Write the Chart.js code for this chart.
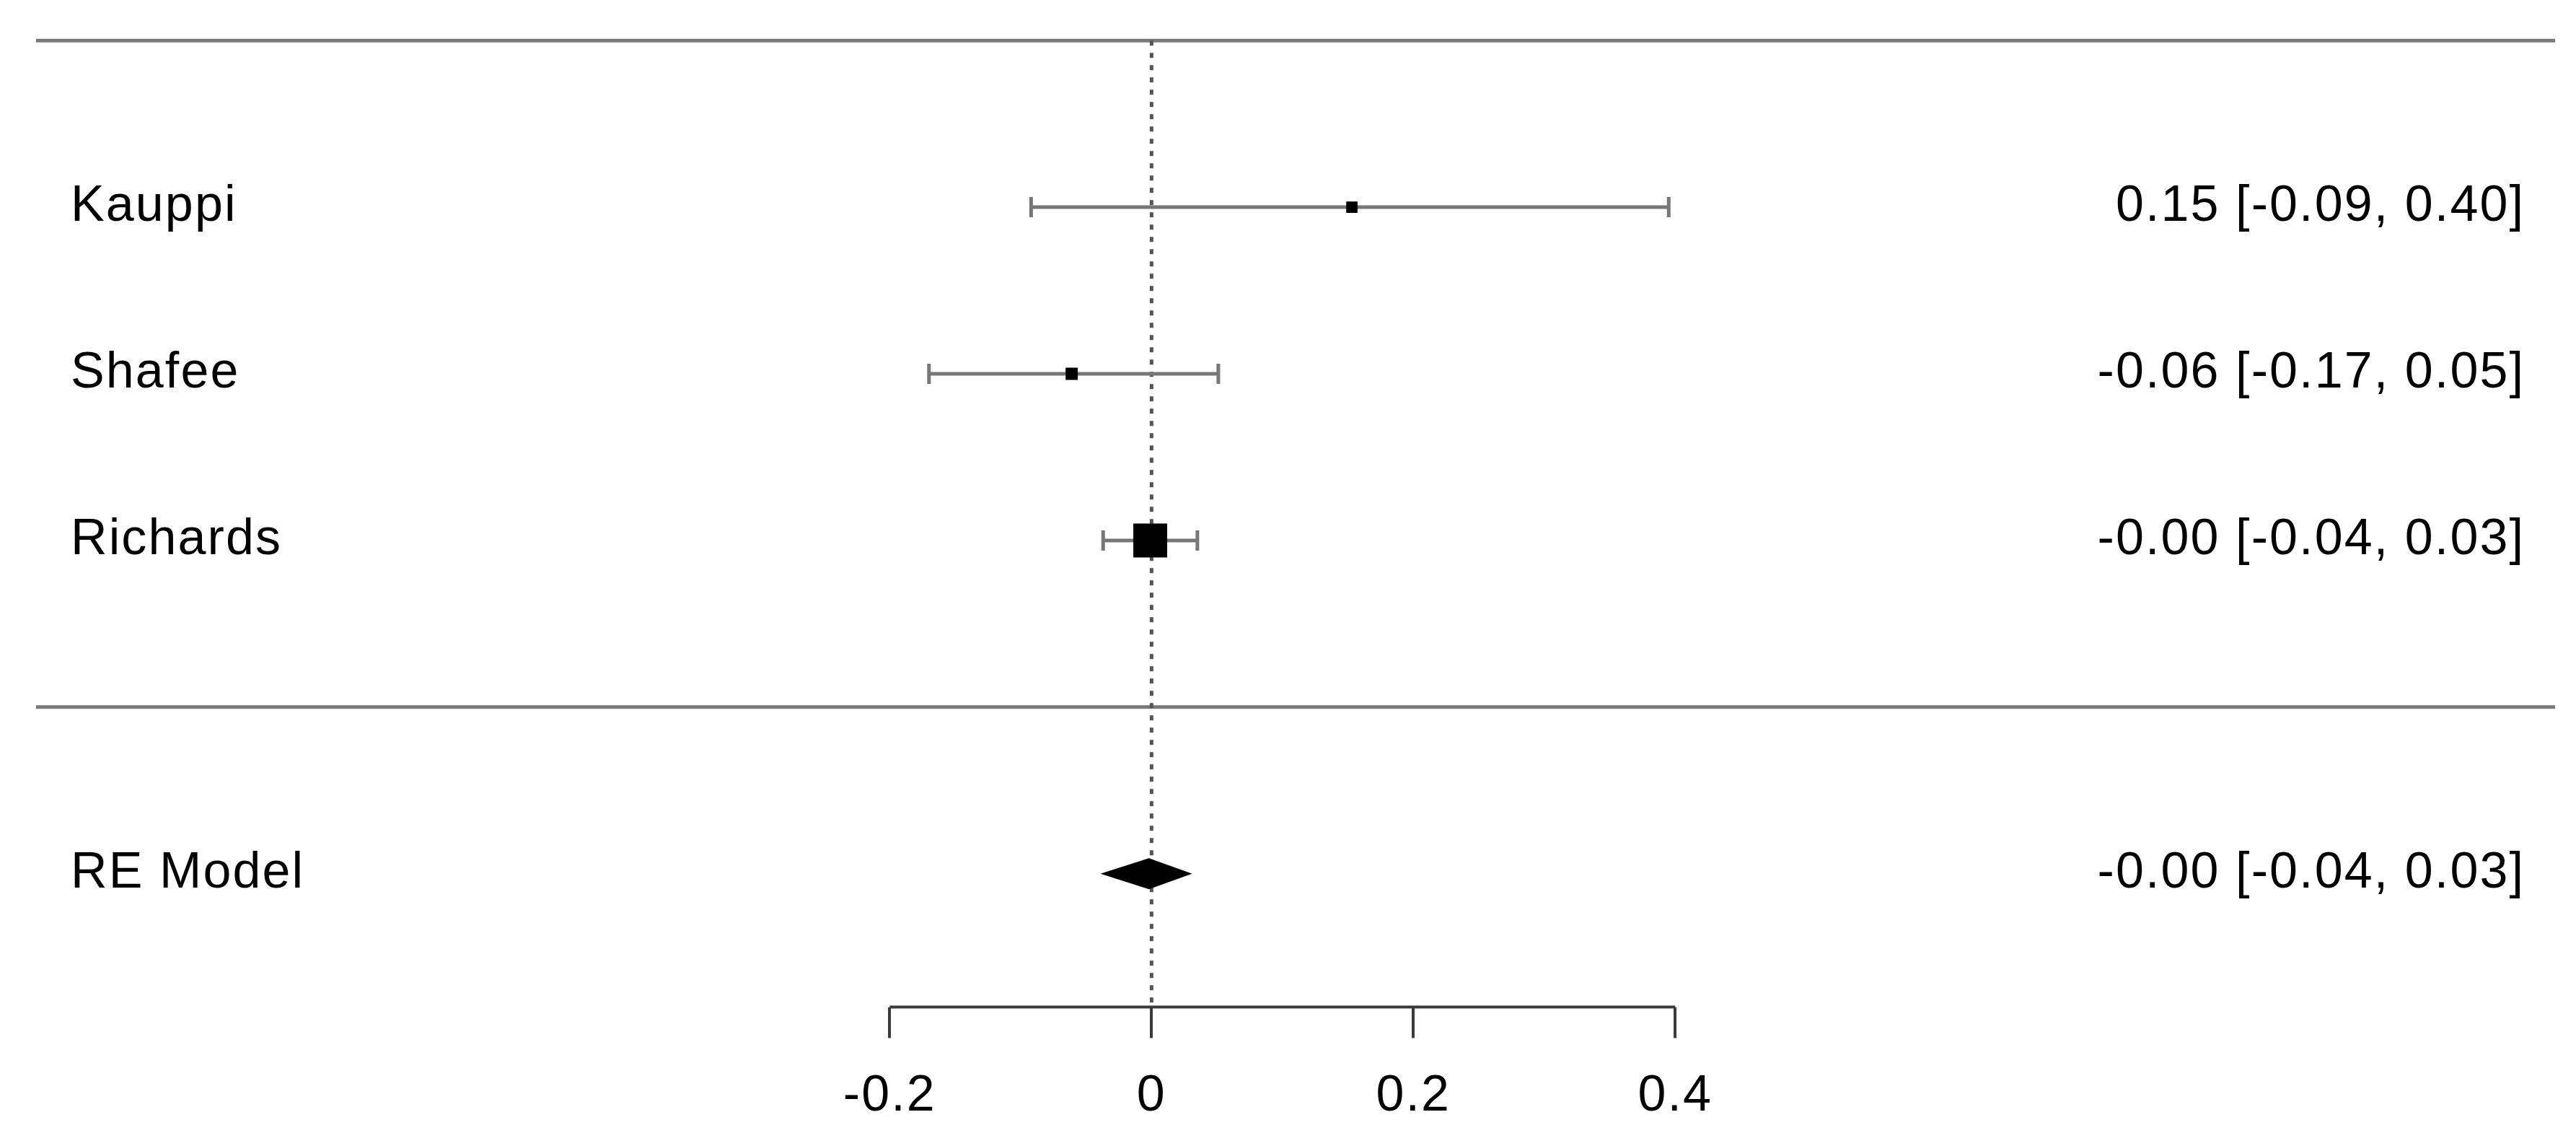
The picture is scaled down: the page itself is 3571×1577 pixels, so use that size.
<!DOCTYPE html>
<html>
<head>
<meta charset="utf-8">
<script src="https://cdn.jsdelivr.net/npm/chart.js@4.4.1/dist/chart.umd.min.js"></script>
<style>
  html, body { margin: 0; padding: 0; background: #fff; }
  #wrap { width: 3571px; height: 1577px; }
</style>
</head>
<body>
<div id="wrap"><canvas id="forest" width="3571" height="1577"></canvas></div>
<script>
// study rows, top to bottom
var studies = ["Kauppi", "Shafee", "Richards"];
var estimates = [0.153, -0.061, -0.001];
var lowerCI = [-0.092, -0.170, -0.037];
var upperCI = [0.395, 0.051, 0.035];
var weights = [1.2, 4.9, 93.9];
var ciText = ["0.15 [-0.09, 0.40]", "-0.06 [-0.17, 0.05]", "-0.00 [-0.04, 0.03]"];

// pooled estimate
var summaryLabel = "RE Model";
var summaryEst = -0.002;
var summaryLower = -0.039;
var summaryUpper = 0.031;
var summaryText = "-0.00 [-0.04, 0.03]";

var xTicks = [-0.2, 0, 0.2, 0.4];

var FONT = '70px "Liberation Sans", Arial, sans-serif';
var SPACING = '2.1px';
var rowY = studies.map(function(s, i) { return studies.length - i; }); // 3,2,1
var summaryY = -1;

// square size follows weight (smallest 0.5, largest 1.5)
var wMin = Math.min.apply(null, weights), wMax = Math.max.apply(null, weights);
var radii = weights.map(function(w) {
  var p = 0.5 + (w - wMin) / (wMax - wMin);
  return p * 31.3 / Math.SQRT2;
});

var forestDecor = {
  id: 'forestDecor',
  beforeDraw: function(chart) {
    // wider text like the low-res original (kept for tick labels too)
    chart.ctx.letterSpacing = SPACING;
  },
  beforeDatasetsDraw: function(chart) {
    var ctx = chart.ctx, x = chart.scales.x, y = chart.scales.y, a = chart.chartArea;
    ctx.save();
    // horizontal rules
    ctx.strokeStyle = '#7a7a7a';
    ctx.lineWidth = 5;
    [studies.length + 1, 0].forEach(function(v) {
      ctx.beginPath();
      ctx.moveTo(a.left, y.getPixelForValue(v));
      ctx.lineTo(a.right, y.getPixelForValue(v));
      ctx.stroke();
    });
    // reference line at 0
    ctx.strokeStyle = '#555';
    ctx.lineWidth = 5;
    ctx.setLineDash([7, 10]);
    ctx.beginPath();
    ctx.moveTo(x.getPixelForValue(0), y.getPixelForValue(studies.length + 1));
    ctx.lineTo(x.getPixelForValue(0), a.bottom);
    ctx.stroke();
    ctx.setLineDash([]);
    // confidence intervals
    ctx.strokeStyle = '#777';
    ctx.lineWidth = 5;
    studies.forEach(function(s, i) {
      var py = y.getPixelForValue(rowY[i]);
      var x0 = x.getPixelForValue(lowerCI[i]), x1 = x.getPixelForValue(upperCI[i]);
      ctx.beginPath();
      ctx.moveTo(x0, py); ctx.lineTo(x1, py);
      ctx.moveTo(x0, py - 14); ctx.lineTo(x0, py + 14);
      ctx.moveTo(x1, py - 14); ctx.lineTo(x1, py + 14);
      ctx.stroke();
    });
    // axis line only across tick range
    ctx.strokeStyle = '#3a3a3a';
    ctx.lineWidth = 4;
    ctx.beginPath();
    ctx.moveTo(x.getPixelForValue(xTicks[0]), a.bottom);
    ctx.lineTo(x.getPixelForValue(xTicks[xTicks.length - 1]), a.bottom);
    ctx.stroke();
    ctx.restore();
  },
  afterDatasetsDraw: function(chart) {
    var ctx = chart.ctx, x = chart.scales.x, y = chart.scales.y, a = chart.chartArea;
    ctx.save();
    // summary diamond
    var sy = y.getPixelForValue(summaryY);
    ctx.fillStyle = '#000';
    ctx.beginPath();
    ctx.moveTo(x.getPixelForValue(summaryLower), sy);
    ctx.lineTo(x.getPixelForValue(summaryEst), sy - 21.5);
    ctx.lineTo(x.getPixelForValue(summaryUpper), sy);
    ctx.lineTo(x.getPixelForValue(summaryEst), sy + 21.5);
    ctx.closePath();
    ctx.fill();
    // text columns
    ctx.font = FONT;
    ctx.letterSpacing = SPACING;
    ctx.fillStyle = '#000';
    ctx.textBaseline = 'middle';
    studies.forEach(function(s, i) {
      var py = y.getPixelForValue(rowY[i]);
      ctx.textAlign = 'left';
      ctx.fillText(s, a.left + 48, py);
      ctx.textAlign = 'right';
      ctx.fillText(ciText[i], a.right - 42, py);
    });
    ctx.textAlign = 'left';
    ctx.fillText(summaryLabel, a.left + 48, sy);
    ctx.textAlign = 'right';
    ctx.fillText(summaryText, a.right - 42, sy);
    ctx.restore();
  }
};

var chart = new Chart(document.getElementById('forest'), {
  type: 'scatter',
  data: {
    datasets: [{
      data: studies.map(function(s, i) { return { x: estimates[i], y: rowY[i] }; }),
      pointStyle: 'rect',
      pointRadius: radii,
      pointHoverRadius: radii,
      backgroundColor: '#000',
      borderWidth: 0
    }]
  },
  options: {
    responsive: false,
    animation: false,
    devicePixelRatio: 1,
    layout: { autoPadding: false, padding: { left: 50, right: 29, top: 10, bottom: 0 } },
    plugins: { legend: { display: false }, tooltip: { enabled: false } },
    scales: {
      x: {
        type: 'linear',
        min: -0.852,
        max: 1.072,
        afterBuildTicks: function(s) { s.ticks = xTicks.map(function(v) { return { value: v }; }); },
        afterFit: function(s) { s.height = 181.5; },
        border: { display: false },
        grid: { drawOnChartArea: false, drawTicks: true, tickLength: 43, color: '#3a3a3a', lineWidth: 4 },
        ticks: {
          color: '#000',
          padding: 39,
          maxRotation: 0,
          autoSkip: false,
          font: { family: '"Liberation Sans", Arial, sans-serif', size: 70 },
          callback: function(v) { return v === 0 ? '0' : String(v); }
        }
      },
      y: { type: 'linear', min: -1.8, max: 4.2, display: false }
    }
  },
  plugins: [forestDecor]
});
</script>
</body>
</html>
